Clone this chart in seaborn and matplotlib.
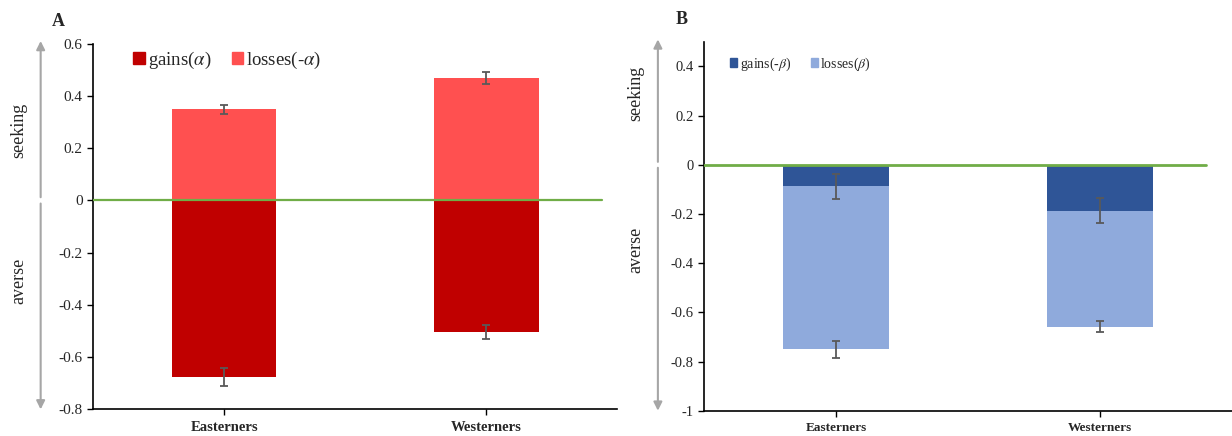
import matplotlib
matplotlib.use('Agg')
import matplotlib.pyplot as plt
import matplotlib.transforms as mtransforms
from matplotlib.ticker import FuncFormatter
from matplotlib.patches import Patch
import seaborn as sns
import numpy as np

sns.set_style('white')
plt.rcParams['font.family'] = ['Liberation Serif', 'DejaVu Serif']
plt.rcParams['mathtext.fontset'] = 'stix'

groups = ['Easterners', 'Westerners']

# panel A: alpha coefficients
gains_alpha = [-0.675, -0.504]
gains_alpha_err = [0.035, 0.027]
losses_alpha = [0.348, 0.469]
losses_alpha_err = [0.017, 0.023]

# panel B: beta coefficients (stacked segments)
gains_beta = [-0.088, -0.187]
gains_beta_err = [0.051, 0.051]
losses_beta = [-0.662, -0.471]
losses_beta_err = [0.034, 0.022]

GREEN = '#70AD47'
ERR = '#595959'
TXT = '#262626'


def style_axis(ax, yticks, ylim, fs):
    ax.set_ylim(*ylim)
    ax.set_xlim(-0.5, 1.5)
    ax.set_yticks(yticks)
    ax.yaxis.set_major_formatter(FuncFormatter(lambda v, p: f'{v:g}' if abs(v) > 1e-9 else '0'))
    sns.despine(ax=ax)
    for s in ['left', 'bottom']:
        ax.spines[s].set_color('black')
        ax.spines[s].set_linewidth(1.2)
    ax.tick_params(axis='y', direction='out', length=4, width=1, color='black',
                   labelsize=fs, labelcolor=TXT, left=True)
    ax.tick_params(axis='x', direction='out', length=4, width=1, color='black', bottom=True, pad=4)
    ax.set_xlabel('')
    ax.set_ylabel('')


def side_arrows(fig, ax, xa, xt, top, bottom, seek_y, avert_y, gap):
    tr = mtransforms.blended_transform_factory(fig.transFigure, ax.transData)
    ap = dict(arrowstyle='-|>,head_width=0.25,head_length=0.5', color='#A6A6A6', lw=1.5,
              shrinkA=0, shrinkB=0)
    ax.annotate('', xy=(xa, top), xytext=(xa, gap), xycoords=tr, textcoords=tr,
                arrowprops=ap, annotation_clip=False)
    ax.annotate('', xy=(xa, bottom), xytext=(xa, -gap), xycoords=tr, textcoords=tr,
                arrowprops=ap, annotation_clip=False)
    ax.text(xt, seek_y, 'seeking', transform=tr, rotation=90, ha='center', va='center',
            fontsize=13, color=TXT)
    ax.text(xt, avert_y, 'averse', transform=tr, rotation=90, ha='center', va='center',
            fontsize=13, color=TXT)


fig = plt.figure(figsize=(12.32, 4.36), dpi=100)
axA = fig.add_axes([0.0755, 0.061, 0.4255, 0.839])
axB = fig.add_axes([0.5715, 0.058, 0.4285, 0.846])

bar_kw = dict(saturation=1, width=0.4, linewidth=0)

# ---- panel A
x = np.arange(len(groups))
sns.barplot(x=groups, y=gains_alpha, color='#C00000', ax=axA, **bar_kw)
sns.barplot(x=groups, y=losses_alpha, color='#FF5050', ax=axA, **bar_kw)
axA.errorbar(x, gains_alpha, yerr=gains_alpha_err, fmt='none', ecolor=ERR, elinewidth=1.3,
             capsize=3, capthick=1.3, zorder=5)
axA.errorbar(x, losses_alpha, yerr=losses_alpha_err, fmt='none', ecolor=ERR, elinewidth=1.3,
             capsize=3, capthick=1.3, zorder=5)
axA.axhline(0, xmin=0, xmax=0.97, color=GREEN, lw=1.6, zorder=4)
style_axis(axA, np.arange(-0.8, 0.61, 0.2), (-0.8, 0.6), 11)
axA.set_xticks(x)
axA.set_xticklabels(groups, fontsize=10.5, fontweight='bold', color=TXT)
handles = [Patch(color='#C00000', label=r'gains($\alpha$)'),
           Patch(color='#FF5050', label=r'losses(-$\alpha$)')]
axA.legend(handles=handles, loc='center left', bbox_to_anchor=(0.045, 0.955), ncol=2,
           frameon=False, fontsize=13.5, handlelength=0.6, handleheight=0.6,
           handletextpad=0.15, columnspacing=1.1, labelcolor=TXT)
fig.text(0.047, 0.95, 'A', fontsize=13, fontweight='bold', ha='center', va='center')
side_arrows(fig, axA, 0.033, 0.0155, 0.61, -0.8, 0.267, -0.31, 0.012)

# ---- panel B (stacked: losses segment below gains segment)
totals_beta = [g + l for g, l in zip(gains_beta, losses_beta)]
sns.barplot(x=groups, y=totals_beta, color='#8FAADC', ax=axB, **bar_kw)
sns.barplot(x=groups, y=gains_beta, color='#2F5597', ax=axB, **bar_kw)
axB.errorbar(x, gains_beta, yerr=gains_beta_err, fmt='none', ecolor=ERR, elinewidth=1.3,
             capsize=3, capthick=1.3, zorder=5)
axB.errorbar(x, totals_beta, yerr=losses_beta_err, fmt='none', ecolor=ERR, elinewidth=1.3,
             capsize=3, capthick=1.3, zorder=5)
axB.axhline(0, xmin=0, xmax=0.95, color=GREEN, lw=2, zorder=4)
style_axis(axB, np.arange(-1.0, 0.41, 0.2), (-1.0, 0.5), 10.5)
axB.set_xticks(x)
axB.set_xticklabels(groups, fontsize=9.5, fontweight='bold', color=TXT)
handles = [Patch(color='#2F5597', label=r'gains(-$\beta$)'),
           Patch(color='#8FAADC', label=r'losses($\beta$)')]
axB.legend(handles=handles, loc='center left', bbox_to_anchor=(0.025, 0.94), ncol=2,
           frameon=False, fontsize=10, handlelength=0.55, handleheight=0.55,
           handletextpad=0.15, columnspacing=1.4, labelcolor=TXT)
fig.text(0.553, 0.955, 'B', fontsize=13, fontweight='bold', ha='center', va='center')
side_arrows(fig, axB, 0.534, 0.516, 0.51, -1.0, 0.29, -0.345, 0.012)

fig.savefig('out.png', dpi=100)
